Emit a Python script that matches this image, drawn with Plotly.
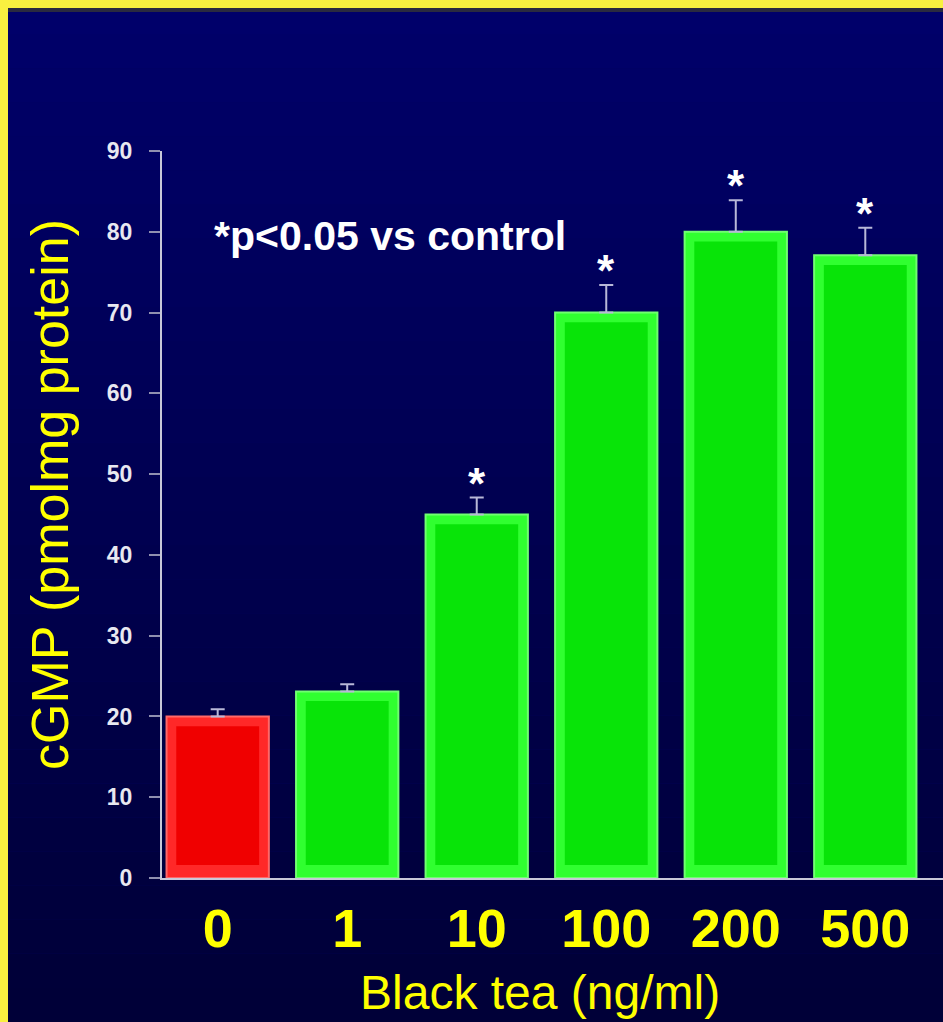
import plotly.graph_objects as go

categories = ["0", "1", "10", "100", "200", "500"]
values = [20.0, 23.1, 45.0, 70.0, 80.0, 77.1]
err_plus = [0.9, 0.9, 2.1, 3.4, 3.9, 3.4]
significant = [False, False, True, True, True, True]
bar_colors = ["#ff2828", "#30ff30", "#30ff30", "#30ff30", "#30ff30", "#30ff30"]
inner_colors = ["#f00000", "#08e408", "#08e408", "#08e408", "#08e408", "#08e408"]
line_colors = ["#ff6868", "#70ff70", "#70ff70", "#70ff70", "#70ff70", "#70ff70"]

W, H = 943, 1022
L, R, T, B = 162, 0, 151, 144
PW, PH = W - L - R, H - T - B
FONT = "Arial, Liberation Sans"

fig = go.Figure()

xs = list(range(len(categories)))
fig.add_trace(go.Bar(
    x=xs, y=values, width=0.79,
    marker=dict(color=bar_colors, line=dict(color=line_colors, width=2)),
    error_y=dict(type="data", array=err_plus, arrayminus=[0] * len(values),
                 symmetric=False, color="#b8b8d8", thickness=2, width=7),
    showlegend=False, hoverinfo="x+y",
))
# inner face of the bevelled bars
inset_bottom, inset_top = 1.6, 1.2
fig.add_trace(go.Bar(
    x=xs, y=[v - inset_bottom - inset_top for v in values], base=[inset_bottom] * len(values),
    width=0.64, marker=dict(color=inner_colors, line=dict(width=0)),
    showlegend=False, hoverinfo="skip",
))

x_left = -L / PW
x_right = 1 + R / PW
y_bot = -B / PH
y_top = 1 + T / PH

def px_x(p):
    return (p - L) / PW

def px_y(p):
    return (H - B - p) / PH

# background gradient strips
shapes = []
n = 30
top = (0x00, 0x00, 0x6a)
bot = (0x00, 0x00, 0x38)
for i in range(n):
    t = i / (n - 1)
    c = tuple(int(top[k] + (bot[k] - top[k]) * t) for k in range(3))
    ya = y_top - (y_top - y_bot) * i / n
    yb = y_top - (y_top - y_bot) * (i + 1) / n
    shapes.append(dict(type="rect", xref="paper", yref="paper", layer="below",
                       x0=x_left, x1=x_right, y0=yb, y1=ya,
                       fillcolor="rgb(%d,%d,%d)" % c, line=dict(width=0)))

# yellow frame (top and left)
shapes.append(dict(type="rect", xref="paper", yref="paper", x0=x_left, x1=x_right,
                   y0=y_top - 8 / PH, y1=y_top, fillcolor="#f8f040", line=dict(width=0), layer="above"))
shapes.append(dict(type="rect", xref="paper", yref="paper", x0=x_left, x1=x_right,
                   y0=y_top - 12 / PH, y1=y_top - 8 / PH, fillcolor="#2a2a40", line=dict(width=0), layer="above"))
shapes.append(dict(type="rect", xref="paper", yref="paper", x0=x_left, x1=x_left + 8 / PW,
                   y0=y_bot, y1=y_top, fillcolor="#f8f040", line=dict(width=0), layer="above"))

annotations = []
for i, (v, e, s) in enumerate(zip(values, err_plus, significant)):
    if s:
        annotations.append(dict(x=i, y=v + e, xref="x", yref="y", text="<b>*</b>",
                                showarrow=False, yanchor="bottom", yshift=-12,
                                font=dict(family=FONT, size=44, color="white")))
annotations.append(dict(x=1.33, y=79.5, xref="x", yref="y", text="<b>*p<0.05 vs control</b>",
                        showarrow=False, font=dict(family=FONT, size=41, color="white")))
# axis titles
annotations.append(dict(x=px_x(540), y=px_y(992), xref="paper", yref="paper",
                        text="Black tea (ng/ml)", showarrow=False, xanchor="center", yanchor="middle",
                        font=dict(family=FONT, size=48, color="#ffff00")))
annotations.append(dict(x=px_x(50), y=px_y(495), xref="paper", yref="paper", textangle=-90,
                        text="cGMP (pmolmg protein)", showarrow=False, xanchor="center", yanchor="middle",
                        font=dict(family=FONT, size=52, color="#ffff00")))

fig.update_layout(
    width=W, height=H,
    margin=dict(l=L, r=R, t=T, b=B),
    paper_bgcolor="#000060", plot_bgcolor="rgba(0,0,0,0)",
    barmode="overlay",
    shapes=shapes, annotations=annotations,
    xaxis=dict(
        range=[-0.43, 5.6], tickmode="array", tickvals=xs,
        ticktext=["<b>%s</b>" % c for c in categories],
        tickfont=dict(family=FONT, size=54, color="#ffff00"),
        showgrid=False, zeroline=False, showline=True, linecolor="#c8c8d8", linewidth=2,
        ticks="", ticklabelstandoff=2,
    ),
    yaxis=dict(
        range=[0, 90], tickvals=list(range(0, 91, 10)),
        tickfont=dict(family=FONT, size=23, color="#e8e8f0", weight="bold"),
        showgrid=False, zeroline=False, showline=True, linecolor="#c8c8d8", linewidth=2,
        ticks="outside", ticklen=11, tickwidth=2, tickcolor="#9090b0", ticklabelstandoff=12,
    ),
)

fig.write_html("out.html", config={"displayModeBar": False},
               post_script="document.body.style.margin='0';document.body.style.overflow='hidden';")
